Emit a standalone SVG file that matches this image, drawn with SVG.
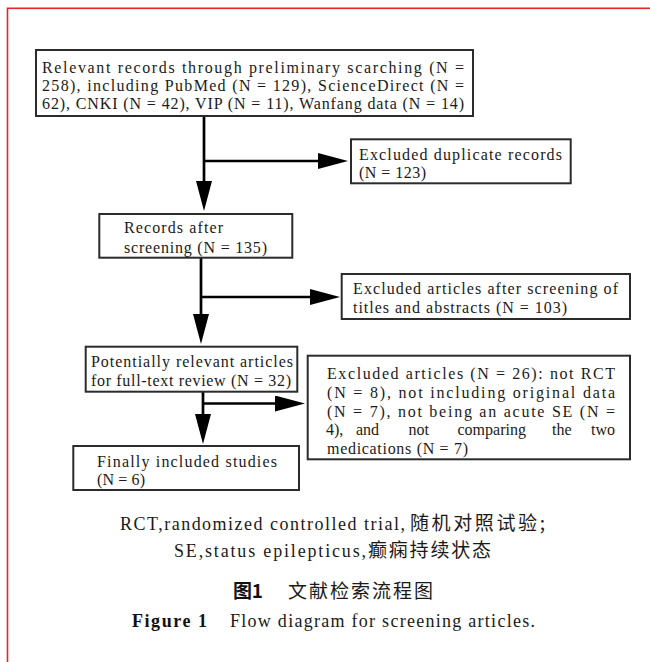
<svg xmlns="http://www.w3.org/2000/svg" width="650" height="662" viewBox="0 0 650 662">
<style>
.bg{fill:#ffffff}
.frame{fill:none;stroke:#e8232b;stroke-width:1.6}
.box{fill:#ffffff;stroke:#2b2b2b;stroke-width:2}
.t{font-family:"Liberation Serif","Times New Roman",serif;font-size:16px;fill:#1a1a1a}
.c{font-family:"Liberation Serif","Times New Roman",serif;font-size:18px;fill:#1a1a1a}
.cb{font-family:"Liberation Serif","Times New Roman",serif;font-size:18px;font-weight:bold;fill:#111}
.zh{font-family:"Noto Sans CJK SC",sans-serif;font-size:19px;fill:#1a1a1a}
.zhb{font-family:"Noto Sans CJK SC",sans-serif;font-size:19px;font-weight:bold;fill:#111}
.ln{fill:none;stroke:#000;stroke-width:2.7;marker-end:url(#ah)}
</style>
<defs>
<marker id="ah" viewBox="0 0 30 16" markerWidth="30" markerHeight="16" refX="16" refY="8" orient="auto" markerUnits="userSpaceOnUse">
<polygon points="0,0 30,8 0,16" fill="#000"/>
</marker>
</defs>
<rect class="bg" x="0" y="0" width="650" height="662"/>
<rect class="frame" x="7.5" y="8.3" width="700" height="700"/>

<g id="connectors">
<line class="ln" x1="204" y1="116" x2="204" y2="197"/>
<line class="ln" x1="204" y1="161" x2="334" y2="161"/>
<line class="ln" x1="201" y1="258" x2="201" y2="330"/>
<line class="ln" x1="201" y1="297" x2="326" y2="297"/>
<line class="ln" x1="203" y1="392" x2="203" y2="430"/>
<line class="ln" x1="203" y1="403.5" x2="291" y2="403.5"/>
</g>

<g id="n1">
<rect class="box" x="36" y="50" width="437" height="66"/>
<text class="t" x="42" y="72.7" textLength="422" lengthAdjust="spacing">Relevant records through preliminary scarching (N =</text>
<text class="t" x="42" y="90.7" textLength="422" lengthAdjust="spacing">258), including PubMed (N = 129), ScienceDirect (N =</text>
<text class="t" x="42" y="109" textLength="422" lengthAdjust="spacing">62), CNKI (N = 42), VIP (N = 11), Wanfang data (N = 14)</text>
</g>

<g id="n2">
<rect class="box" x="351" y="139.3" width="219.7" height="44"/>
<text class="t" x="359" y="160" textLength="203" lengthAdjust="spacing">Excluded duplicate records</text>
<text class="t" x="359" y="178" textLength="67" lengthAdjust="spacing">(N = 123)</text>
</g>

<g id="n3">
<rect class="box" x="99.3" y="214" width="193" height="43.7"/>
<text class="t" x="124" y="233.3" textLength="99" lengthAdjust="spacing">Records after</text>
<text class="t" x="124" y="252.7" textLength="143" lengthAdjust="spacing">screening (N = 135)</text>
</g>

<g id="n4">
<rect class="box" x="341.7" y="274" width="288.3" height="45"/>
<text class="t" x="353" y="294" textLength="265" lengthAdjust="spacing">Excluded articles after screening of</text>
<text class="t" x="353" y="312.7" textLength="214" lengthAdjust="spacing">titles and abstracts (N = 103)</text>
</g>

<g id="n5">
<rect class="box" x="85.7" y="346.7" width="211.6" height="45"/>
<text class="t" x="91" y="367.3" textLength="202" lengthAdjust="spacing">Potentially relevant articles</text>
<text class="t" x="91" y="386" textLength="200" lengthAdjust="spacing">for full-text review (N = 32)</text>
</g>

<g id="n6">
<rect class="box" x="307.7" y="355.7" width="322.3" height="103.6"/>
<text class="t" x="327" y="379.3" textLength="288" lengthAdjust="spacing">Excluded articles (N = 26): not RCT</text>
<text class="t" x="327" y="397.8" textLength="288" lengthAdjust="spacing">(N = 8), not including original data</text>
<text class="t" x="327" y="416.5" textLength="288" lengthAdjust="spacing">(N = 7), not being an acute SE (N =</text>
<text class="t" y="435.2"><tspan x="326">4),</tspan><tspan x="356">and</tspan><tspan x="408.5">not</tspan><tspan x="457.5">comparing</tspan><tspan x="552">the</tspan><tspan x="615" text-anchor="end">two</tspan></text>
<text class="t" x="327" y="453.5" textLength="141" lengthAdjust="spacing">medications (N = 7)</text>
</g>

<g id="n7">
<rect class="box" x="73.3" y="446" width="225.7" height="44"/>
<text class="t" x="97" y="467.3" textLength="180" lengthAdjust="spacing">Finally included studies</text>
<text class="t" x="97" y="485" textLength="48" lengthAdjust="spacing">(N = 6)</text>
</g>

<g id="caption">
<text class="c" x="120" y="530" textLength="285" lengthAdjust="spacing">RCT,randomized controlled trial,</text>
<text class="zh" x="410" y="530" textLength="135" lengthAdjust="spacing">随机对照试验;</text>
<text class="c" x="174" y="557.3" textLength="192" lengthAdjust="spacing">SE,status epilepticus,</text>
<text class="zh" x="368" y="557.3" textLength="123" lengthAdjust="spacing">癫痫持续状态</text>
<text class="zhb" x="233" y="598.3" textLength="30" lengthAdjust="spacing">图1</text>
<text class="zh" x="288" y="598.3" textLength="145" lengthAdjust="spacing">文献检索流程图</text>
<text class="cb" x="132" y="626.7" textLength="75" lengthAdjust="spacing">Figure 1</text>
<text class="c" x="230" y="626.7" textLength="305" lengthAdjust="spacing">Flow diagram for screening articles.</text>
</g>
</svg>
